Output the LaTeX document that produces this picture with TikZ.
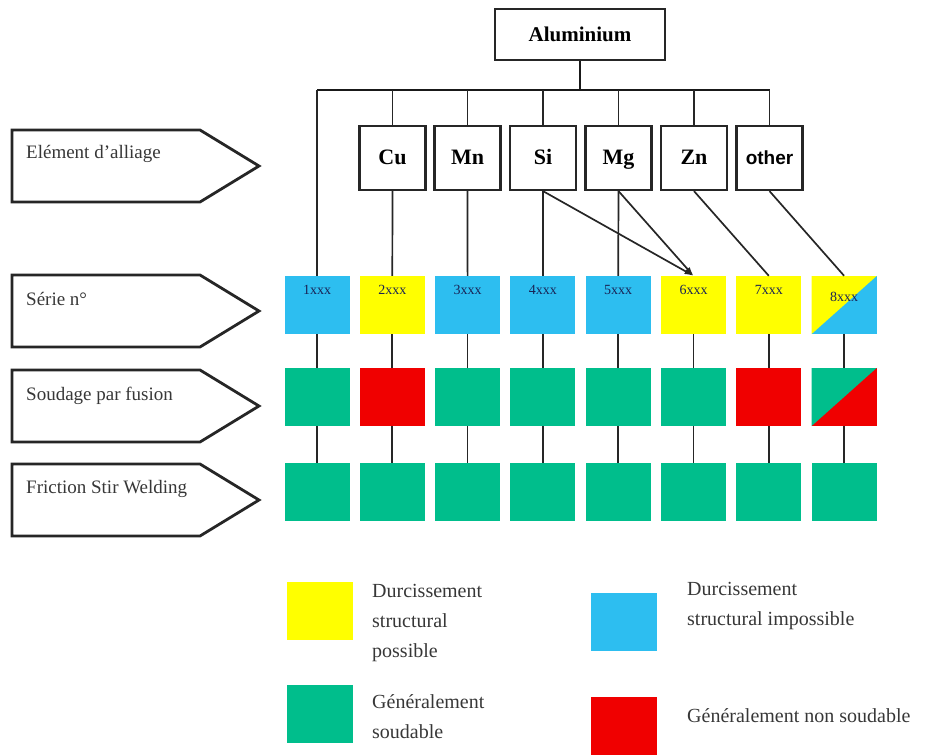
\documentclass[tikz,border=0pt]{standalone}
\usepackage{fontspec}
\setmainfont{Liberation Serif}
\newfontfamily\arialfont{Liberation Sans}
\usetikzlibrary{arrows.meta}
\definecolor{cblue}{RGB}{45,190,240}
\definecolor{cyel}{RGB}{255,255,0}
\definecolor{cgreen}{RGB}{0,190,140}
\definecolor{cred}{RGB}{240,0,0}
\definecolor{cnavy}{RGB}{25,35,85}
\definecolor{cgraytext}{RGB}{55,55,55}
\begin{document}
\begin{tikzpicture}[x=1pt,y=-1pt,
  conn/.style={line width=1.7pt, draw=black!85},
  bus/.style={line width=2.6pt, draw=black!90},
  elbox/.style={draw=black!85, line width=2.2pt, fill=white, minimum width=66pt, minimum height=64pt, inner sep=0pt, text height=15pt, text depth=2pt, font=\fontsize{22}{24}\selectfont\bfseries},
  serbox/.style={minimum width=65pt, minimum height=58pt, inner sep=0pt},
  serlab/.style={anchor=north, yshift=-9pt, inner sep=0pt, text=cnavy, font=\fontsize{14}{14}\selectfont},
  pent/.style={draw=black!85, line width=2.8pt, line join=miter},
  pentlab/.style={anchor=west, inner sep=0pt, text=cgraytext, font=\fontsize{19}{21}\selectfont},
  legsq/.style={minimum width=66pt, minimum height=58pt, inner sep=0pt},
  legtxt/.style={anchor=north west, inner sep=0pt, align=left, text=cgraytext, font=\fontsize{20}{30}\selectfont},
  arr/.style={conn, -{Latex[length=9pt,width=6pt]}}
]
\useasboundingbox (0,0) rectangle (927,755);

% ---- left pentagon labels
\draw[pent] (12,130) -- (200,130) -- (259,166) -- (200,202) -- (12,202) -- cycle;
\node[pentlab] (lE) at (26,154) {Elément d'alliage};
\draw[pent] (12,275) -- (200,275) -- (259,311) -- (200,347) -- (12,347) -- cycle;
\node[pentlab] (lS) at (26,299) {Série n°};
\draw[pent] (12,370) -- (200,370) -- (259,406) -- (200,442) -- (12,442) -- cycle;
\node[pentlab] (lF) at (26,396) {Soudage par fusion};
\draw[pent] (12,464) -- (200,464) -- (259,500) -- (200,536) -- (12,536) -- cycle;
\node[pentlab] (lW) at (26,489) {Friction Stir Welding};

% ---- top: Aluminium and elements
\node[elbox, minimum width=170pt, minimum height=51pt, font=\fontsize{21}{23}\selectfont\bfseries] (al) at (580,34.5) {Aluminium};
\node[elbox] (eCu) at (392.5,158) {Cu};
\node[elbox] (eMn) at (467.5,158) {Mn};
\node[elbox] (eSi) at (543,158) {Si};
\node[elbox] (eMg) at (618.5,158) {Mg};
\node[elbox] (eZn) at (694,158) {Zn};
\node[elbox, font=\fontsize{19}{21}\selectfont\arialfont\bfseries] (eOt) at (769.5,158) {other};

% ---- series row
\node[serbox, fill=cblue, label={[serlab]north:1xxx}] (s1) at (317,305) {};
\node[serbox, fill=cyel,  label={[serlab]north:2xxx}] (s2) at (392.3,305) {};
\node[serbox, fill=cblue, label={[serlab]north:3xxx}] (s3) at (467.6,305) {};
\node[serbox, fill=cblue, label={[serlab]north:4xxx}] (s4) at (542.9,305) {};
\node[serbox, fill=cblue, label={[serlab]north:5xxx}] (s5) at (618.2,305) {};
\node[serbox, fill=cyel,  label={[serlab]north:6xxx}] (s6) at (693.5,305) {};
\node[serbox, fill=cyel,  label={[serlab]north:7xxx}] (s7) at (768.8,305) {};
\node[serbox, fill=cblue, label={[serlab, yshift=-7pt]north:8xxx},
  path picture={\fill[cyel] (path picture bounding box.south west) -- (path picture bounding box.north west) -- (path picture bounding box.north east) -- cycle;}] (s8) at (844.1,305) {};

% ---- fusion row
\node[serbox, fill=cgreen] (f1) at (317,397) {};
\node[serbox, fill=cred]   (f2) at (392.3,397) {};
\node[serbox, fill=cgreen] (f3) at (467.6,397) {};
\node[serbox, fill=cgreen] (f4) at (542.9,397) {};
\node[serbox, fill=cgreen] (f5) at (618.2,397) {};
\node[serbox, fill=cgreen] (f6) at (693.5,397) {};
\node[serbox, fill=cred]   (f7) at (768.8,397) {};
\node[serbox, fill=cred,
  path picture={\fill[cgreen] (path picture bounding box.south west) -- (path picture bounding box.north west) -- (path picture bounding box.north east) -- cycle;}] (f8) at (844.1,397) {};

% ---- FSW row
\node[serbox, fill=cgreen] (w1) at (317,492) {};
\node[serbox, fill=cgreen] (w2) at (392.3,492) {};
\node[serbox, fill=cgreen] (w3) at (467.6,492) {};
\node[serbox, fill=cgreen] (w4) at (542.9,492) {};
\node[serbox, fill=cgreen] (w5) at (618.2,492) {};
\node[serbox, fill=cgreen] (w6) at (693.5,492) {};
\node[serbox, fill=cgreen] (w7) at (768.8,492) {};
\node[serbox, fill=cgreen] (w8) at (844.1,492) {};

% ---- tree connectors
\coordinate (bL) at (317,90);
\coordinate (bR) at (769.5,90);
\draw[bus] (bL) -- (bR);
\draw[bus] (al.south) -- (al.south |- bL);
\draw[conn] (bL) -- (s1.north);
\foreach \e in {eCu,eMn,eSi,eMg,eZn,eOt}{
  \draw[conn] (\e.north) -- (\e.north |- bL);
}
\draw[conn] (eCu.south) -- (s2.north);
\draw[conn] (eMn.south) -- (s3.north);
\draw[conn] (eSi.south) -- (s4.north);
\draw[conn] (eMg.south) -- (s5.north);
\draw[arr] (eSi.south) -- (s6.north);
\draw[arr] (eMg.south) -- (s6.north);
\draw[conn] (eZn.south) -- (s7.north);
\draw[conn] (eOt.south) -- (s8.north);
\foreach \i in {1,...,8}{
  \draw[conn] (s\i.south) -- (f\i.north);
  \draw[conn] (f\i.south) -- (w\i.north);
}

% ---- legend
\node[legsq, fill=cyel]   (kY) at (320,611) {};
\node[legtxt] (tY) at (372,584) {Durcissement\\structural\\possible};
\node[legsq, fill=cblue]  (kB) at (624,622) {};
\node[legtxt] (tB) at (687,582) {Durcissement\\structural impossible};
\node[legsq, fill=cgreen] (kG) at (320,714) {};
\node[legtxt] (tG) at (372,694) {Généralement\\soudable};
\node[legsq, fill=cred]   (kR) at (624,726) {};
\node[legtxt] (tR) at (687,708) {Généralement non soudable};
\end{tikzpicture}
\end{document}
